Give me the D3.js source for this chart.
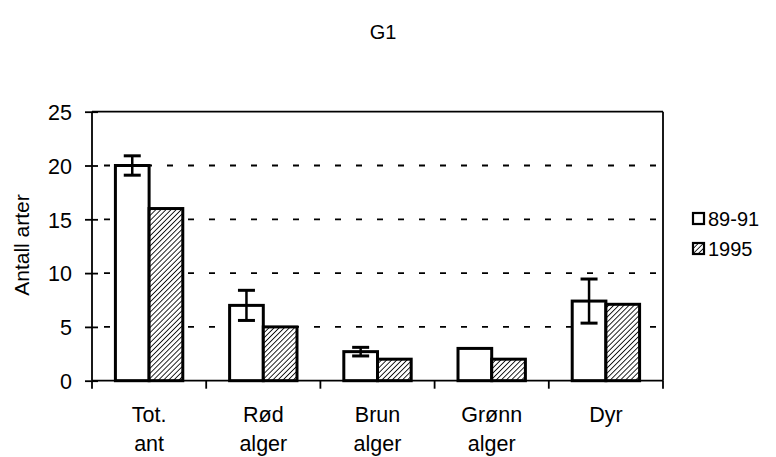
<!DOCTYPE html>
<html><head><meta charset="utf-8">
<script src="https://cdn.jsdelivr.net/npm/d3@7"></script>
<style>body{margin:0;background:#fff;} svg{display:block;font-family:"Liberation Sans",Arial,sans-serif;}</style>
</head><body>
<svg id="c" width="776" height="457"></svg>
<script>
const categories = [["Tot.","ant"],["Rød","alger"],["Brun","alger"],["Grønn","alger"],["Dyr"]];
const seriesNames = ["89-91","1995"];
const values8991 = [20, 7, 2.7, 3, 7.4];
const errors8991 = [0.9, 1.4, 0.4, null, 2.05];
const values1995 = [16, 5, 2, 2, 7.1];
const yTicks = [0,5,10,15,20,25];

const svg = d3.select("#c");
const L=92,R=663,T=111.7,B=380.7;

const defs = svg.append("defs");
const pat = defs.append("pattern").attr("id","hatch").attr("patternUnits","userSpaceOnUse")
  .attr("width",3.6).attr("height",3.6).attr("patternTransform","rotate(45)");
pat.append("rect").attr("width",3.6).attr("height",3.6).attr("fill","#fff");
pat.append("line").attr("x1",0).attr("y1",0).attr("x2",0).attr("y2",3.6).attr("stroke","#000").attr("stroke-width",1.7);

const x = d3.scaleBand().domain(d3.range(categories.length)).range([L,R]).paddingInner(0.41).paddingOuter(0.205);
const xs = d3.scaleBand().domain(seriesNames).range([0,x.bandwidth()]);
const y = d3.scaleLinear().domain([0,25]).range([B,T]);

// gridlines
svg.append("g").selectAll("line").data(yTicks.filter(v=>v>0&&v<25)).join("line")
  .attr("x1",L).attr("x2",R).attr("y1",d=>y(d)).attr("y2",d=>y(d))
  .attr("stroke","#000").attr("stroke-width",1.8).attr("stroke-dasharray","6,15").attr("stroke-dashoffset",-12);

// frame top & right
svg.append("line").attr("x1",L).attr("x2",R).attr("y1",T).attr("y2",T).attr("stroke","#000").attr("stroke-width",1.8);
svg.append("line").attr("x1",R).attr("x2",R).attr("y1",T).attr("y2",B).attr("stroke","#000").attr("stroke-width",1.8);

// bars
const data = categories.map((c,i)=>[
  {s:"89-91",v:values8991[i],e:errors8991[i],i},
  {s:"1995",v:values1995[i],e:null,i}
]);
svg.append("g").selectAll("g").data(data).join("g").attr("transform",(d,i)=>`translate(${x(i)},0)`)
 .selectAll("rect").data(d=>d).join("rect")
  .attr("x",d=>xs(d.s)).attr("width",xs.bandwidth())
  .attr("y",d=>y(d.v)).attr("height",d=>B-y(d.v))
  .attr("fill",d=>d.s==="1995"?"url(#hatch)":"#fff")
  .attr("stroke","#000").attr("stroke-width",3);

// error bars
const eb = svg.append("g").selectAll("g").data(data.map(d=>d[0]).filter(d=>d.e!=null)).join("g")
  .attr("transform",d=>`translate(${x(d.i)+xs("89-91")+xs.bandwidth()/2},0)`);
eb.append("line").attr("y1",d=>y(d.v+d.e)).attr("y2",d=>y(d.v-d.e)).attr("stroke","#000").attr("stroke-width",2.5);
eb.append("line").attr("x1",-8.5).attr("x2",8.5).attr("y1",d=>y(d.v+d.e)).attr("y2",d=>y(d.v+d.e)).attr("stroke","#000").attr("stroke-width",3);
eb.append("line").attr("x1",-8.5).attr("x2",8.5).attr("y1",d=>y(d.v-d.e)).attr("y2",d=>y(d.v-d.e)).attr("stroke","#000").attr("stroke-width",3);

// y axis
const ya = svg.append("g").attr("transform",`translate(${L},0)`)
  .call(d3.axisLeft(y).tickValues(yTicks).tickSizeInner(7).tickSizeOuter(0).tickPadding(13));
ya.select(".domain").attr("stroke-width",1.8).attr("d",`M0,${T}V${B}`);
ya.selectAll(".tick line").attr("x1",-7).attr("x2",6).attr("stroke-width",1.8);
ya.selectAll("text").attr("font-size",21.5).attr("font-family","Liberation Sans, Arial, sans-serif").attr("fill","#000").attr("dy","0.36em");

// x axis
const xa = svg.append("g").attr("transform",`translate(0,${B})`);
xa.append("line").attr("x1",L).attr("x2",R).attr("stroke","#000").attr("stroke-width",1.8);
const bounds = d3.range(categories.length+1).map(i=> i<categories.length ? x(i)-x.step()*x.paddingInner()/2 : R);
xa.selectAll("line.t").data(bounds).join("line").attr("class","t").attr("x1",d=>d).attr("x2",d=>d).attr("y1",0).attr("y2",8).attr("stroke","#000").attr("stroke-width",1.8);
const lbl = xa.selectAll("text").data(categories).join("text")
  .attr("text-anchor","middle").attr("font-size",21.5).attr("fill","#000")
  .attr("transform",(d,i)=>`translate(${x(i)+x.bandwidth()/2},0)`);
lbl.selectAll("tspan").data(d=>d).join("tspan").attr("x",0).attr("y",(d,j)=>41+j*29).text(d=>d);

// y label
svg.append("text").attr("transform","translate(29,245) rotate(-90)").attr("text-anchor","middle")
  .attr("font-size",21).text("Antall arter");

// title
svg.append("text").attr("x",383).attr("y",39).attr("text-anchor","middle").attr("font-size",20).text("G1");

// legend
const lg = svg.append("g").selectAll("g").data(seriesNames).join("g")
  .attr("transform",(d,i)=>`translate(693,${213+i*30})`);
lg.append("rect").attr("width",11).attr("height",11)
  .attr("fill",d=>d==="1995"?"url(#hatch)":"#fff").attr("stroke","#000").attr("stroke-width",2.2);
lg.append("text").attr("x",15).attr("y",12.5).attr("font-size",20).text(d=>d);
</script>
</body></html>
